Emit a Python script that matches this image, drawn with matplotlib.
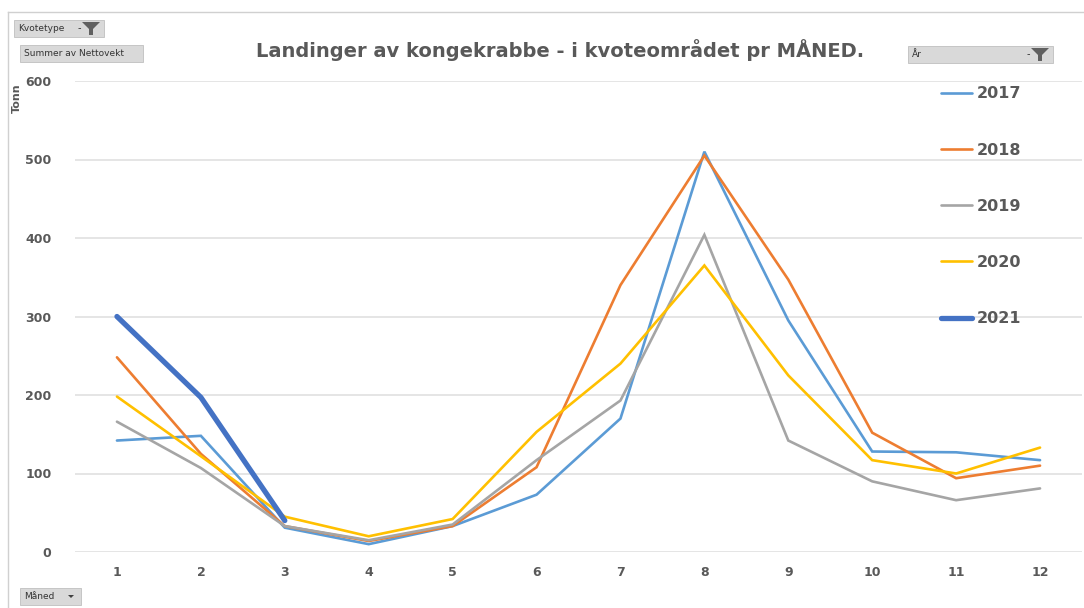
import numpy as np
import matplotlib.pyplot as plt
import matplotlib.patches as mpatches

months = list(range(1, 13))
years = ["2017", "2018", "2019", "2020", "2021"]
v2017 = [142, 148, 31, 10, 33, 73, 170, 510, 295, 128, 127, 117]
v2018 = [248, 125, 33, 14, 33, 108, 340, 505, 347, 152, 94, 110]
v2019 = [166, 107, 33, 15, 35, 117, 193, 404, 142, 90, 66, 81]
v2020 = [198, 122, 45, 20, 42, 153, 240, 365, 225, 117, 100, 133]
v2021 = [300, 197, 40]

COLORS = ["#5B9BD5", "#ED7D31", "#A5A5A5", "#FFC000", "#4472C4"]
WIDTHS = [1.9, 1.9, 1.9, 1.9, 3.8]
TEXT = "#595959"

fig = plt.figure(figsize=(10.84, 6.08), dpi=100)
fig.patch.set_facecolor("white")
W, H = 1084, 608

# axes placed in pixel terms: x 75..1082, y 81..552
ax = fig.add_axes([75 / W, 1 - 552 / H, (1082 - 75) / W, (552 - 81) / H])
ax.set_facecolor("none")

series = [v2017, v2018, v2019, v2020, v2021]
for yr, vals, c, lw in zip(years, series, COLORS, WIDTHS):
    ax.plot(months[:len(vals)], vals, color=c, lw=lw, label=yr,
            solid_joinstyle="miter" if lw < 3 else "round", solid_capstyle="round")

ax.set_xlim(0.5, 12.5)
ax.set_ylim(0, 600)
ax.set_yticks(range(0, 601, 100))
ax.set_xticks(months)
ax.yaxis.grid(True, color="#E0E0E0", lw=1.2)
ax.set_axisbelow(True)
for s in ax.spines.values():
    s.set_visible(False)
ax.tick_params(length=0, colors=TEXT, labelsize=9)
ax.tick_params(axis="y", pad=17)
ax.tick_params(axis="x", pad=10)
for lab in ax.get_xticklabels() + ax.get_yticklabels():
    lab.set_fontweight("bold")

# legend entries on the right
leg = ax.legend(loc="upper left", bbox_to_anchor=(860 / (1082 - 75), (552 - 80) / (552 - 81)),
                frameon=False, fontsize=11.5, handlelength=1.9, handletextpad=0.3,
                labelspacing=2.58, borderaxespad=0)
for t in leg.get_texts():
    t.set_color(TEXT)
    t.set_fontweight("bold")

fig.text(560 / W, 1 - 50 / H, "Landinger av kongekrabbe - i kvoteområdet pr MÅNED.",
         ha="center", va="center", fontsize=14, fontweight="bold", color=TEXT)
fig.text(17 / W, 1 - 98 / H, "Tonn", rotation=90, ha="center", va="center",
         fontsize=8, fontweight="bold", color=TEXT)

# light frame
fig.add_artist(plt.Line2D([8 / W, 1], [1 - 12 / H, 1 - 12 / H], color="#D0D0D0", lw=1))
fig.add_artist(plt.Line2D([8 / W, 8 / W], [0, 1 - 12 / H], color="#D0D0D0", lw=1))


def button(x0, y0, x1, y1, label, funnel=False, arrow=False):
    fig.add_artist(mpatches.Rectangle((x0 / W, 1 - y1 / H), (x1 - x0) / W, (y1 - y0) / H,
                                      facecolor="#D9D9D9", edgecolor="#BFBFBF", lw=0.6))
    fig.text((x0 + 4) / W, 1 - (y0 + y1) / 2 / H, label, ha="left", va="center",
             fontsize=6.5, color="#333333")
    if funnel:
        cx, top, bot = x1 - 13, y0 + 2, y1 - 2
        pts = [(cx - 9, top), (cx + 9, top), (cx + 2, top + 7), (cx + 2, bot),
               (cx - 2, bot), (cx - 2, top + 7)]
        fig.add_artist(mpatches.Polygon([(px / W, 1 - py / H) for px, py in pts],
                                        closed=True, facecolor="#606060", edgecolor="none"))
        fig.text((x1 - 25) / W, 1 - (y0 + y1) / 2 / H, "-", ha="center", va="center",
                 fontsize=7, color="#333333")
    if arrow:
        ax_ = x1 - 10
        pts = [(ax_ - 3, (y0 + y1) / 2 - 1.5), (ax_ + 3, (y0 + y1) / 2 - 1.5), (ax_, (y0 + y1) / 2 + 1.5)]
        fig.add_artist(mpatches.Polygon([(px / W, 1 - py / H) for px, py in pts],
                                        closed=True, facecolor="#404040", edgecolor="none"))


button(14, 20, 104, 37, "Kvotetype", funnel=True)
button(20, 45, 143, 62, "Summer av Nettovekt")
button(908, 46, 1053, 63, "År", funnel=True)
button(20, 588, 81, 605, "Måned", arrow=True)

fig.savefig("out.png", dpi=100, facecolor="white")
